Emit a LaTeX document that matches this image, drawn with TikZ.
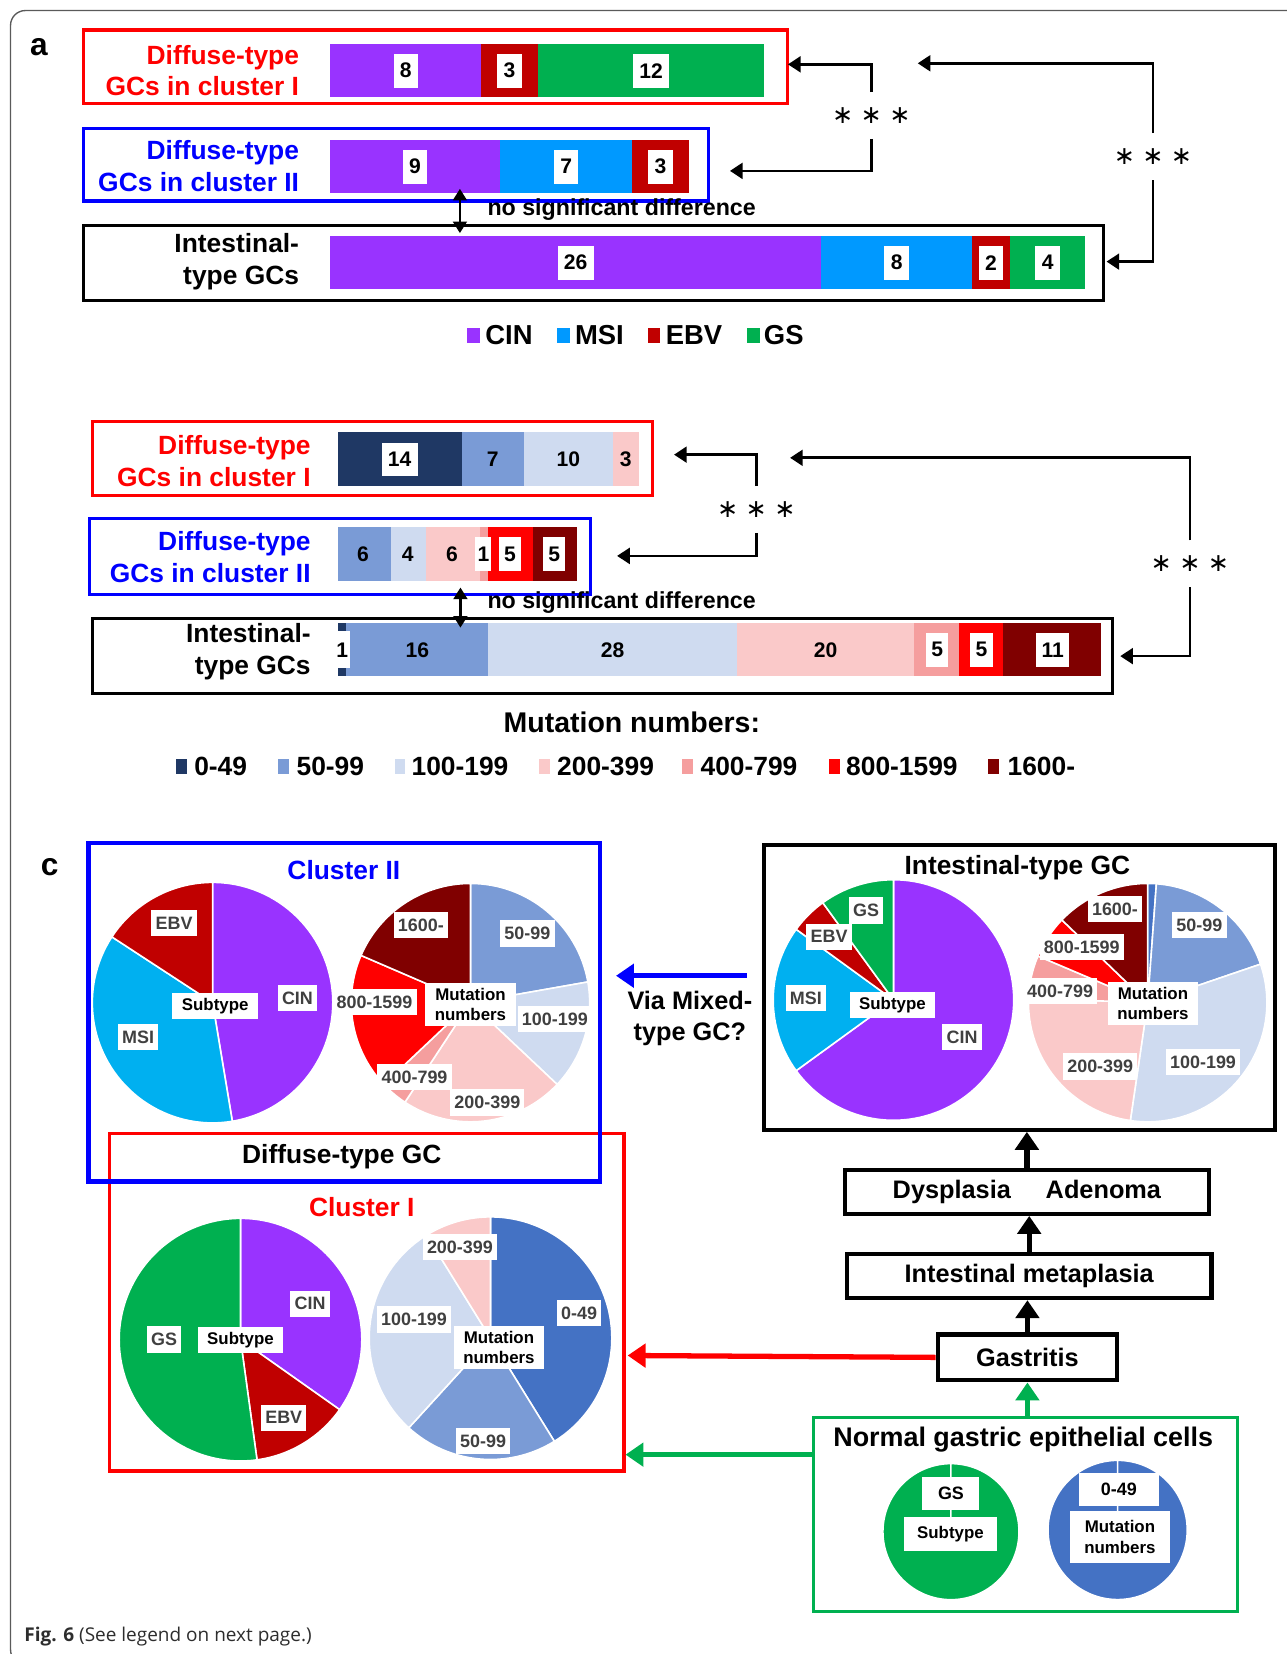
\documentclass[tikz,border=0pt]{standalone}
\usepackage{fontspec}
\setmainfont{Liberation Sans}
\newfontfamily\capfont{Open Sans}
\newfontfamily\starfont{DejaVu Sans}
\usetikzlibrary{arrows.meta}
\definecolor{cin}{RGB}{153,51,255}
\definecolor{msibar}{RGB}{0,153,255}
\definecolor{msi}{RGB}{0,176,240}
\definecolor{ebv}{RGB}{192,0,0}
\definecolor{gs}{RGB}{0,176,80}
\definecolor{mA}{RGB}{31,56,100}
\definecolor{mApie}{RGB}{68,114,196}
\definecolor{mB}{RGB}{122,155,214}
\definecolor{mC}{RGB}{207,219,240}
\definecolor{mD}{RGB}{250,201,201}
\definecolor{mE}{RGB}{245,158,158}
\definecolor{mF}{RGB}{255,0,0}
\definecolor{mG}{RGB}{128,0,0}
\definecolor{pured}{RGB}{255,0,0}
\definecolor{pureblue}{RGB}{0,0,255}
\definecolor{labgray}{RGB}{64,64,64}
\definecolor{framegray}{RGB}{90,90,90}
\definecolor{capgray}{RGB}{45,45,45}
\newcommand\fsz[2]{\fontsize{#1}{#2}\selectfont}
\newcommand\mypie[4]{%
  \gdef\piecum{0}%
  \foreach \pv/\pc in {#4}{%
    \pgfmathsetmacro\pta{-90+\piecum*(360/#3)}%
    \pgfmathsetmacro\ptb{-90+(\piecum+\pv)*(360/#3)}%
    \fill[fill=\pc,draw=white,line width=1.5pt] #1 -- ++(\pta:#2) arc[start angle=\pta,end angle=\ptb,radius=#2] -- cycle;%
    \pgfmathsetmacro\ptmp{\piecum+\pv}%
    \global\let\piecum\ptmp
  }%
}
\newcommand\threestars{∗\hspace{7pt}∗\hspace{7pt}∗}
\tikzset{
  frame/.style={line width=3pt,anchor=north west,inner sep=0pt},
  grplab/.style={anchor=east,align=right,font=\bfseries\fsz{25}{30}},
  numbox/.style={fill=white,inner xsep=6pt,inner ysep=0pt,minimum height=32pt,font=\bfseries\fsz{20}{20}},
  numplain/.style={inner sep=0pt,font=\bfseries\fsz{20}{20}},
  stars/.style={inner sep=0pt,minimum height=44pt,font=\starfont\fsz{24}{24}},
  arr/.style={line width=2.5pt,-{Triangle[length=12pt,width=15pt]}},
  darr/.style={line width=2.5pt,{Triangle[length=11pt,width=13pt]}-{Triangle[length=11pt,width=13pt]}},
  nsd/.style={anchor=west,inner sep=0pt,font=\bfseries\fsz{22}{22}},
  legA/.style={anchor=west,inner sep=0pt,font=\bfseries\fsz{26}{26}},
  legB/.style={anchor=west,inner sep=0pt,font=\bfseries\fsz{25}{25}},
  pielab/.style={fill=white,text=labgray,inner xsep=4pt,inner ysep=2pt,minimum height=25pt,font=\bfseries\fsz{17}{19}},
  piemid/.style={fill=white,text=black,align=center,inner xsep=9pt,inner ysep=5pt,font=\bfseries\fsz{16}{19}},
  title/.style={font=\bfseries\fsz{25}{25},inner sep=0pt},
  flow/.style={draw,line width=4pt,anchor=north west,inner sep=0pt,font=\bfseries\fsz{24}{24}},
  bigarr/.style={line width=5pt,-{Triangle[length=17pt,width=22pt]}},
}
\begin{document}
\begin{tikzpicture}[x=1pt,y=-1pt]
\useasboundingbox (0,0) rectangle (1220,1568);
\draw[framegray,line width=1.3pt,rounded corners=14pt] (1240,10) -- (10,10) -- (10,1578) -- (1240,1578);
\node[font=\bfseries\fsz{30}{30},inner sep=0pt] (la) at (37,45) {a};
\node[font=\bfseries\fsz{30}{30},inner sep=0pt] (lc) at (47,822) {c};

% ---------- part a ----------
\node[frame,draw=pured,minimum width=667pt,minimum height=70pt] (ra) at (78,27) {};
\node[frame,draw=pureblue,minimum width=592pt,minimum height=69pt] (rb) at (78,120) {};
\node[frame,draw=black,minimum width=967pt,minimum height=71pt] (ri) at (78,212) {};
\node[grplab,text=pured] (ta1) at (287,67) {Diffuse-type\\GCs in cluster I};
\node[grplab,text=pureblue] (ta2) at (287,157.5) {Diffuse-type\\GCs in cluster II};
\node[grplab] (ta3) at (287,248) {Intestinal-\\type GCs};
\fill[cin] (313,42) rectangle (456.2,92);
\fill[ebv] (456.2,42) rectangle (509.9,92);
\fill[gs] (509.9,42) rectangle (724.7,92);
\fill[cin] (313,133) rectangle (474.1,183);
\fill[msibar] (474.1,133) rectangle (599.4,183);
\fill[ebv] (599.4,133) rectangle (653.1,183);
\fill[cin] (313,224) rectangle (778.4,274);
\fill[msibar] (778.4,224) rectangle (921.6,274);
\fill[ebv] (921.6,224) rectangle (957.4,274);
\fill[gs] (957.4,224) rectangle (1029,274);
\node[numbox] (a11) at (384.6,67) {8};
\node[numbox] (a12) at (483,67) {3};
\node[numbox] (a13) at (617.3,67) {12};
\node[numbox] (a21) at (393.5,158) {9};
\node[numbox] (a22) at (536.7,158) {7};
\node[numbox] (a23) at (626.2,158) {3};
\node[numbox] (a31) at (545.7,249) {26};
\node[numbox] (a32) at (850,249) {8};
\node[numbox] (a33) at (939.5,249) {2};
\node[numbox] (a34) at (993.2,249) {4};
\node[stars] (sa1) at (826,109.5) {\threestars};
\node[stars] (sa2) at (1093,148.5) {\threestars};
\coordinate (ta1e) at (747,61);
\coordinate (ta2e) at (692,162);
\coordinate (ta3e) at (870,60);
\coordinate (ta4e) at (1049,248);
\draw[arr] (sa1.north) |- (ta1e);
\draw[arr] (sa1.south) |- (ta2e);
\draw[arr] (sa2.north) |- (ta3e);
\draw[arr] (sa2.south) |- (ta4e);
\coordinate (da1) at (436,179);
\coordinate (da2) at (436,221);
\draw[darr] (da1) -- (da2);
\node[nsd] (nsa) at (462,199) {no significant difference};
\fill[cin] (443,311) rectangle (455,325);
\node[legA] (lg1) at (460,318) {CIN};
\fill[msibar] (528,311) rectangle (540,325);
\node[legA] (lg2) at (545,318) {MSI};
\fill[ebv] (614,311) rectangle (626,325);
\node[legA] (lg3) at (631,318) {EBV};
\fill[gs] (708,311) rectangle (720,325);
\node[legA] (lg4) at (724,318) {GS};

% ---------- part b ----------
\node[frame,draw=pured,minimum width=531pt,minimum height=70pt] (rb1) at (86,398) {};
\node[frame,draw=pureblue,minimum width=475pt,minimum height=72pt] (rb2) at (83,490) {};
\node[frame,draw=black,minimum width=967pt,minimum height=71pt] (rb3) at (86,585) {};
\node[grplab,text=pured] (tb1) at (298,437) {Diffuse-type\\GCs in cluster I};
\node[grplab,text=pureblue] (tb2) at (298,528) {Diffuse-type\\GCs in cluster II};
\node[grplab] (tb3) at (298,618) {Intestinal-\\type GCs};
\fill[mA] (320,410) rectangle (437.7,461);
\fill[mB] (437.7,410) rectangle (496.6,461);
\fill[mC] (496.6,410) rectangle (580.7,461);
\fill[mD] (580.7,410) rectangle (606,461);
\fill[mB] (320,500) rectangle (370.5,551);
\fill[mC] (370.5,500) rectangle (404.1,551);
\fill[mD] (404.1,500) rectangle (454.6,551);
\fill[mE] (454.6,500) rectangle (463,551);
\fill[mF] (463,500) rectangle (505.1,551);
\fill[mG] (505.1,500) rectangle (547.2,551);
\fill[mA] (320,591) rectangle (328.4,641);
\fill[mB] (328.4,591) rectangle (463,641);
\fill[mC] (463,591) rectangle (698.5,641);
\fill[mD] (698.5,591) rectangle (866.7,641);
\fill[mE] (866.7,591) rectangle (908.7,641);
\fill[mF] (908.7,591) rectangle (950.8,641);
\fill[mG] (950.8,591) rectangle (1043.3,641);
\node[numbox] (b11) at (378.9,435.5) {14};
\node[numplain] (b12) at (467,435.5) {7};
\node[numplain] (b13) at (538.7,435.5) {10};
\node[numplain] (b14) at (593.3,435.5) {3};
\node[numplain] (b21) at (344,525.5) {6};
\node[numplain] (b22) at (386.5,525.5) {4};
\node[numplain] (b23) at (428.5,525.5) {6};
\node[numbox,inner xsep=2pt] (b24) at (458.3,525.5) {1};
\node[numbox,inner xsep=5pt] (b25) at (483.5,525.5) {5};
\node[numbox,inner xsep=5pt] (b26) at (525.5,525.5) {5};
\node[numbox,inner xsep=2pt,minimum height=35pt] (b31) at (324.5,616) {1};
\node[numplain] (b32) at (395.7,616) {16};
\node[numplain] (b33) at (580.7,616) {28};
\node[numplain] (b34) at (782.6,616) {20};
\node[numbox,inner xsep=5pt] (b35) at (888.5,616) {5};
\node[numbox,inner xsep=5pt] (b36) at (930.5,616) {5};
\node[numbox,inner xsep=5pt] (b37) at (998,616) {11};
\node[stars] (sb1) at (717,483) {\threestars};
\node[stars] (sb2) at (1128,534.5) {\threestars};
\coordinate (tb1e) at (639,431);
\coordinate (tb2e) at (585,527);
\coordinate (tb3e) at (749,434);
\coordinate (tb4e) at (1062,622);
\draw[arr] (sb1.north) |- (tb1e);
\draw[arr] (sb1.south) |- (tb2e);
\draw[arr] (sb2.north) |- (tb3e);
\draw[arr] (sb2.south) |- (tb4e);
\coordinate (db1) at (436.5,557);
\coordinate (db2) at (436.5,595);
\draw[darr] (db1) -- (db2);
\node[nsd] (nsb) at (462,571) {no significant difference};
\node[font=\bfseries\fsz{27}{27},inner sep=0pt] (mnt) at (599,685) {Mutation numbers:};
\fill[mA] (167,720) rectangle (177,734);
\node[legB] (lb1) at (184,727) {0-49};
\fill[mB] (264,720) rectangle (274,734);
\node[legB] (lb2) at (281,727) {50-99};
\fill[mC] (374,720) rectangle (384,734);
\node[legB] (lb3) at (390,727) {100-199};
\fill[mD] (511,720) rectangle (521,734);
\node[legB] (lb4) at (528,727) {200-399};
\fill[mE] (647,720) rectangle (657,734);
\node[legB] (lb5) at (664,727) {400-799};
\fill[mF] (786,720) rectangle (796,734);
\node[legB] (lb6) at (802,727) {800-1599};
\fill[mG] (937,720) rectangle (947,734);
\node[legB] (lb7) at (955,727) {1600-};

% ---------- part c ----------
\node[frame,draw=pured,minimum width=488pt,minimum height=320pt] (cr) at (102,1073) {};
\node[frame,draw=pureblue,line width=4pt,minimum width=485pt,minimum height=321pt] (cb) at (82,797) {};
\node[frame,draw=black,line width=4pt,minimum width=485pt,minimum height=270pt] (ci) at (722,799) {};
\node[title,text=pureblue] (tc2) at (326,825) {Cluster II};
\node[title,text=pured] (tc1) at (343,1144) {Cluster I};
\node[title] (tdg) at (324,1096.5) {Diffuse-type GC};
\node[title] (tig) at (964.5,823) {Intestinal-type GC};

\mypie{(201.5,950.5)}{114}{19}{9/cin,7/msi,3/ebv}
\mypie{(446,950.5)}{113}{27}{6/mB,4/mC,6/mD,1/mE,5/mF,5/mG}
\mypie{(847,948)}{114}{40}{26/cin,8/msi,2/ebv,4/gs}
\mypie{(1088,950.5)}{113}{86}{1/mApie,16/mB,28/mC,20/mD,5/mE,5/mF,11/mG}
\mypie{(228,1270)}{115}{23}{8/cin,3/ebv,12/gs}
\mypie{(465,1268.6)}{115}{34}{14/mApie,7/mB,10/mC,3/mD}
\mypie{(901.5,1452)}{64.5}{1}{1/gs}
\mypie{(1059.5,1450.4)}{66}{1}{1/mApie}

% cluster II labels
\node[pielab] (p1a) at (165,875) {EBV};
\node[pielab] (p1b) at (282,946) {CIN};
\node[pielab] (p1c) at (131,983) {MSI};
\node[piemid] (p1d) at (204,954) {Subtype};
\node[pielab] (p2a) at (399,877) {1600-};
\node[pielab] (p2b) at (500,885) {50-99};
\node[pielab] (p2c) at (355,950) {800-1599};
\node[pielab] (p2e) at (526,966) {100-199};
\node[pielab] (p2f) at (393,1021) {400-799};
\node[pielab] (p2g) at (462,1045) {200-399};
\node[piemid] (p2d) at (446,952) {Mutation\\numbers};
% intestinal labels
\node[pielab] (p3a) at (821,863) {GS};
\node[pielab] (p3b) at (786,888) {EBV};
\node[pielab] (p3c) at (764,946) {MSI};
\node[pielab] (p3e) at (912,983) {CIN};
\node[piemid] (p3d) at (846,953) {Subtype};
\node[pielab] (p4a) at (1057,862) {1600-};
\node[pielab] (p4b) at (1137,877) {50-99};
\node[pielab] (p4c) at (1025.5,898) {800-1599};
\node[pielab] (p4e) at (1005,939.5) {400-799};
\node[pielab] (p4f) at (1043,1011) {200-399};
\node[pielab] (p4g) at (1140.5,1007) {100-199};
\node[piemid] (p4d) at (1093,951) {Mutation\\numbers};
% cluster I labels
\node[pielab] (p5a) at (294,1236) {CIN};
\node[pielab] (p5b) at (155.5,1270) {GS};
\node[pielab] (p5c) at (269,1344) {EBV};
\node[piemid] (p5d) at (228,1270) {Subtype};
\node[pielab] (p6a) at (436,1182) {200-399};
\node[pielab] (p6b) at (549,1245) {0-49};
\node[pielab] (p6c) at (392.5,1251) {100-199};
\node[pielab] (p6e) at (458,1366) {50-99};
\node[piemid] (p6d) at (473,1277) {Mutation\\numbers};

% flow
\node[flow,minimum width=345pt,minimum height=41.7pt] (dys) at (799,1107) {Dysplasia\hspace{33pt}Adenoma};
\node[flow,minimum width=345.4pt,minimum height=41.6pt] (met) at (801,1187) {Intestinal metaplasia};
\node[flow,minimum width=170pt,minimum height=43.6pt] (gas) at (887,1263) {Gastritis};
\node[frame,draw=gs,minimum width=402pt,minimum height=184pt] (ng) at (769.5,1342.4) {};
\node[title,font=\bfseries\fsz{25.5}{25.5}] (ngt) at (970,1365) {Normal gastric epithelial cells};
\node[fill=white,inner sep=0pt,minimum width=54pt,minimum height=31pt,font=\bfseries\fsz{17}{17}] (n1) at (901.5,1415.6) {GS};
\node[fill=white,inner sep=0pt,minimum width=88pt,minimum height=32pt,font=\bfseries\fsz{16}{16}] (n2) at (901,1454) {Subtype};
\node[fill=white,inner sep=0pt,minimum width=76pt,minimum height=31pt,font=\bfseries\fsz{17}{17}] (n3) at (1060.7,1412) {0-49};
\node[fill=white,inner sep=0pt,minimum width=95pt,minimum height=50pt,align=center,font=\bfseries\fsz{16}{20}] (n4) at (1061.7,1457) {Mutation\\numbers};

\draw[bigarr] (dys.north) -- (dys.north |- ci.south);
\draw[bigarr] (met.north) -- (met.north |- dys.south);
\draw[bigarr] (gas.north) -- (gas.north |- met.south);
\draw[bigarr,color=gs] (gas.south |- ng.north) -- (gas.south);
\coordinate (rte) at (595,1285);
\draw[bigarr,color=pured] (gas.west) -- (rte);
\coordinate (gst) at (769.5,1379);
\coordinate (gte) at (593,1379);
\draw[bigarr,color=gs] (gst) -- (gte);
\coordinate (bvs) at (708,925);
\coordinate (bve) at (584,925);
\draw[bigarr,color=pureblue] (bvs) -- (bve);
\node[align=center,font=\bfseries\fsz{24}{29},inner sep=0pt] (via) at (654,965.5) {Via Mixed-\\type GC?};

\node[anchor=west,inner sep=0pt,text=capgray,font=\capfont\fsz{18}{18}] (cap) at (23,1551) {\textbf{Fig. 6} (See legend on next page.)};
\end{tikzpicture}
\end{document}
